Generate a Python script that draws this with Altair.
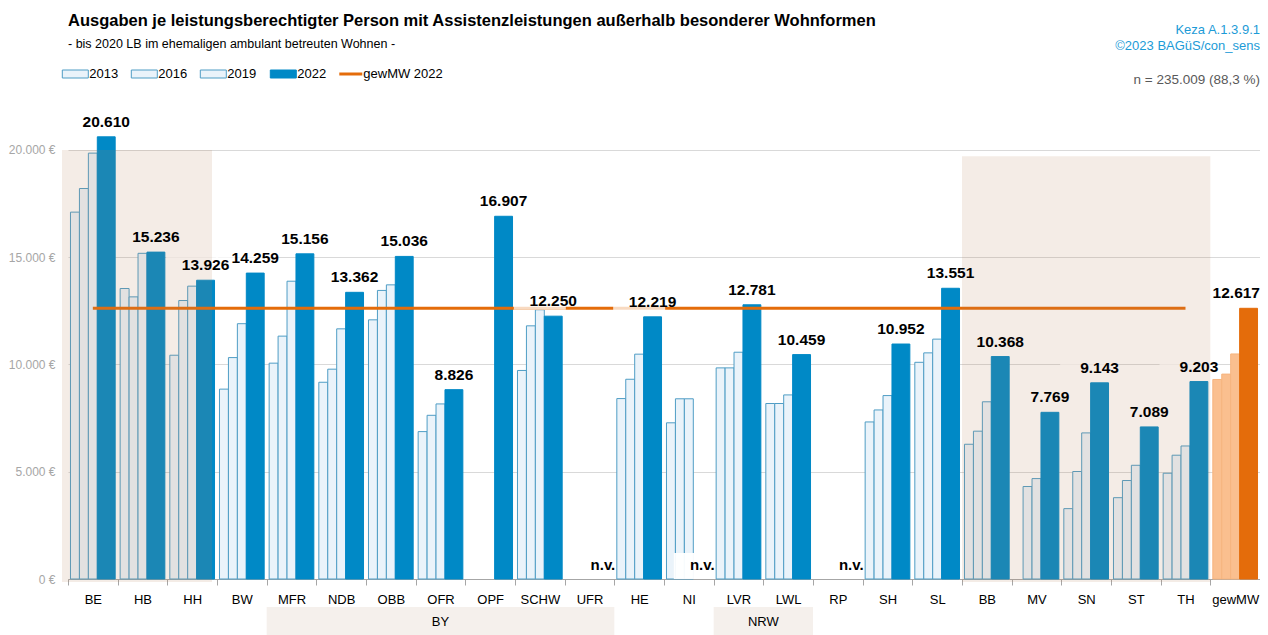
import altair as alt
import pandas as pd

# ---------------- data ----------------
categories = ["BE", "HB", "HH", "BW", "MFR", "NDB", "OBB", "OFR", "OPF", "SCHW", "UFR",
              "HE", "NI", "LVR", "LWL", "RP", "SH", "SL", "BB", "MV", "SN", "ST", "TH", "gewMW"]
years = ["2013", "2016", "2019", "2022"]
v2013 = [17100, 13540, 10430, 8850, 10060, 9170, 12080, 6870, None, 9720, None,
         8410, 7280, 9840, 8180, None, 7320, 10100, 6280, None, 3280, 3790, 4930, 9300]
v2016 = [18200, 13150, 12980, 10320, 11320, 9780, 13450, 7630, None, 11800, None,
         9310, 8400, 9840, 8180, None, 7880, 10540, 6890, 4310, 5010, 4590, 5770, 9550]
v2019 = [19850, 15180, 13650, 11900, 13880, 11660, 13710, 8160, None, 12550, None,
         10480, 8400, 10570, 8580, None, 8550, 11180, 8260, 4680, 6810, 5300, 6200, 10490]
v2022 = [20610, 15236, 13926, 14259, 15156, 13362, 15036, 8826, 16907, 12250, None,
         12219, None, 12781, 10459, None, 10952, 13551, 10368, 7769, 9143, 7089, 9203, 12617]
y_ticks = [0, 5000, 10000, 15000, 20000]
city_states = ["BE", "HB", "HH"]
east_states = ["BB", "MV", "SN", "ST", "TH"]
na_cats = ["UFR", "NI", "RP"]
na_text = "n.v."
groups = ["BY", "NRW"]
group_start = ["MFR", "LVR"]
group_end = ["UFR", "LWL"]
avg_cat = "gewMW"
legend_labels = ["2013", "2016", "2019", "2022", "gewMW 2022"]
title_text = "Ausgaben je leistungsberechtigter Person mit Assistenzleistungen außerhalb besonderer Wohnformen"
subtitle_text = "- bis 2020 LB im ehemaligen ambulant betreuten Wohnen -"
source_lines = ["Keza A.1.3.9.1", "©2023 BAGüS/con_sens"]
n_text = "n = 235.009 (88,3 %)"

series = {"2013": v2013, "2016": v2016, "2019": v2019, "2022": v2022}


def de_fmt(v):
    return f"{int(v):,}".replace(",", ".")


rows = []
for yr, vals in series.items():
    for c, v in zip(categories, vals):
        if v is None:
            continue
        kind = "mw" if c == avg_cat else "land"
        rows.append(dict(cat=c, year=yr, value=v, key=kind + yr, label=de_fmt(v)))
bars = pd.DataFrame(rows)
labels22 = bars[bars.year == "2022"].reset_index(drop=True)
na_df = pd.DataFrame({"cat": na_cats, "value": [0] * len(na_cats), "label": [na_text] * len(na_cats)})
avg2022 = v2022[categories.index(avg_cat)]
line_df = pd.DataFrame([{"cat": city_states[0], "e": east_states[-1], "value": avg2022}])
city_df = pd.DataFrame([{"cat": city_states[0], "e": city_states[-1], "value": 20000}])
east_df = pd.DataFrame([{"cat": east_states[0], "e": east_states[-1], "value": 19700}])
group_df = pd.DataFrame({"g": groups, "cat": group_start, "e": group_end})
dummy = pd.DataFrame({"d": [0]})

# ---------------- style ----------------
FONT = "Liberation Sans, Arial, sans-serif"
BLUE = "#0089c6"
OLD_FILL = "#eaf3fa"
OLD_STROKE = "#4f9dc5"
ORANGE = "#e46c0a"
ORANGE_L = "#fabf8f"
OVERLAY = "#b68058"

W, H = 1192, 472
xscale = alt.Scale(domain=categories, paddingInner=0, paddingOuter=0)
yscale = alt.Scale(domain=[0, 22000], nice=False, zero=True)
keys = ["land2013", "land2016", "land2019", "land2022", "mw2013", "mw2016", "mw2019", "mw2022"]
fill_scale = alt.Scale(domain=keys, range=[OLD_FILL] * 3 + [BLUE] + [ORANGE_L] * 3 + [ORANGE])
stroke_scale = alt.Scale(domain=keys, range=[OLD_STROKE] * 3 + [BLUE] + ["#f6b47e"] * 3 + [ORANGE])
pos = {"2013": (0.05, 0.23), "2016": (0.23, 0.41), "2019": (0.41, 0.59), "2022": (0.59, 0.95)}
LBL_POS = 0.77

x_axis = alt.Axis(title=None, tickBand="extent", labelAngle=0, tickSize=6, tickColor="#a6a6a6",
                  domainColor="#a6a6a6", labelFontSize=13, labelColor="#000000", labelPadding=8,
                  labelFont=FONT, grid=False)
y_axis = alt.Axis(title=None, values=y_ticks, tickSize=0, domain=False, gridColor="#d9d9d9",
                  labelColor="#a6a6a6", labelPadding=13, labelFontSize=12, labelFont=FONT,
                  labelExpr="replace(format(datum.value, ',d'), ',', '.') + ' €'")


def X(field="cat:N", bp=0.5, axis=False):
    if axis:
        return alt.X(field, scale=xscale, bandPosition=bp, axis=x_axis)
    return alt.X(field, scale=xscale, bandPosition=bp, title=None)


def Y(field="value:Q", axis=False):
    if axis:
        return alt.Y(field, scale=yscale, axis=y_axis, stack=None)
    return alt.Y(field, scale=yscale, title=None, stack=None)


layers = []
for i, yr in enumerate(years):
    b0, b1 = pos[yr]
    layers.append(
        alt.Chart(bars).transform_filter(alt.datum.year == yr).mark_bar(strokeWidth=1).encode(
            x=X(bp=b0, axis=(i == 0)),
            x2=alt.X2("cat", bandPosition=b1),
            y=Y(axis=(i == 0)),
            y2=alt.datum(0),
            fill=alt.Fill("key:N", scale=fill_scale, legend=None),
            stroke=alt.Stroke("key:N", scale=stroke_scale, legend=None),
        )
    )

avg_line = alt.Chart(line_df).mark_rule(color=ORANGE, strokeWidth=3).encode(
    x=X(bp=0.5), x2=alt.X2("e", bandPosition=0.5), y=Y(),
)

label_box = alt.Chart(labels22).transform_filter(alt.datum.cat != avg_cat).mark_tick(
    color="white", opacity=0.75, size=52, thickness=17, yOffset=-15).encode(
    x=X(bp=LBL_POS), y=Y(),
)
na_box = alt.Chart(na_df).mark_tick(color="white", opacity=0.95, size=30, thickness=26, yOffset=-13).encode(
    x=X(bp=LBL_POS), y=Y(),
)

city_overlay = alt.Chart(city_df).mark_rect(color=OVERLAY, opacity=0.15, xOffset=-6, x2Offset=-5, y2Offset=3).encode(
    x=X(bp=0), x2=alt.X2("e", bandPosition=1), y=Y(), y2=alt.datum(0),
)
east_overlay = alt.Chart(east_df).mark_rect(color=OVERLAY, opacity=0.15, y2Offset=3).encode(
    x=X(bp=0), x2=alt.X2("e", bandPosition=1), y=Y(), y2=alt.datum(0),
)

label_text = alt.Chart(labels22).transform_filter(alt.datum.cat != avg_cat).mark_text(
    font=FONT, fontSize=15.5, fontWeight="bold", color="#000000", dy=-15, baseline="middle").encode(
    x=X(bp=LBL_POS), y=Y(), text="label:N",
)
avg_text = alt.Chart(labels22).transform_filter(alt.datum.cat == avg_cat).mark_text(
    font=FONT, fontSize=15.5, fontWeight="bold", color="#000000", dy=-15, baseline="middle",
    align="right").encode(
    x=X(bp=1.0), y=Y(), text="label:N",
)
na_label = alt.Chart(na_df).mark_text(font=FONT, fontSize=15, fontWeight="bold", color="#000000",
                                      dy=-14, baseline="middle").encode(
    x=X(bp=LBL_POS), y=Y(), text="label:N",
)

group_box = alt.Chart(group_df).mark_rect(color="#f5f0ec").encode(
    x=X(bp=0), x2=alt.X2("e", bandPosition=1),
    y=alt.value(H + 28), y2=alt.value(H + 56),
)
group_text = []
for g, s, e in zip(groups, group_start, group_end):
    i0, i1 = categories.index(s), categories.index(e) + 1
    mid = (i0 + i1) / 2
    anchor = categories[int(mid)]
    frac = mid - int(mid)
    group_text.append(
        alt.Chart(pd.DataFrame({"cat": [anchor], "g": [g]})).mark_text(
            font=FONT, fontSize=13, color="#000000", baseline="middle").encode(
            x=X(bp=frac), y=alt.value(H + 43), text="g:N",
        )
    )

# ---- legend (manual, above plot) ----
LY = -33
leg = []
box_x = [-5.7, 63.3, 132.3, 202.3]
for k, (lbl, bx) in enumerate(zip(legend_labels[:4], box_x)):
    fill = BLUE if k == 3 else OLD_FILL
    strk = BLUE if k == 3 else OLD_STROKE
    leg.append(alt.Chart(dummy).mark_rect(fill=fill, stroke=strk, strokeWidth=1).encode(
        x=alt.value(bx), x2=alt.value(bx + 26), y=alt.value(LY - 4), y2=alt.value(LY + 4)))
    leg.append(alt.Chart(dummy).mark_text(font=FONT, fontSize=13, align="left", baseline="middle",
                                          color="#000000", text=lbl).encode(
        x=alt.value(bx + 27), y=alt.value(LY)))
leg.append(alt.Chart(dummy).mark_rule(color=ORANGE, strokeWidth=3).encode(
    x=alt.value(271.3), x2=alt.value(294.3), y=alt.value(LY)))
leg.append(alt.Chart(dummy).mark_text(font=FONT, fontSize=13, align="left", baseline="middle",
                                      color="#000000", text=legend_labels[4]).encode(
    x=alt.value(295.3), y=alt.value(LY)))

# ---- titles & notes ----
notes = [
    alt.Chart(dummy).mark_text(font=FONT, fontSize=16.5, fontWeight="bold", align="left", baseline="middle",
                               color="#000000", text=title_text).encode(x=alt.value(0), y=alt.value(-86)),
    alt.Chart(dummy).mark_text(font=FONT, fontSize=12.5, align="left", baseline="middle",
                               color="#000000", text=subtitle_text).encode(x=alt.value(0), y=alt.value(-63)),
    alt.Chart(dummy).mark_text(font=FONT, fontSize=13, align="right", baseline="middle",
                               color="#1c9bd7", text=source_lines[0]).encode(x=alt.value(W), y=alt.value(-77)),
    alt.Chart(dummy).mark_text(font=FONT, fontSize=13, align="right", baseline="middle",
                               color="#1c9bd7", text=source_lines[1]).encode(x=alt.value(W), y=alt.value(-61)),
    alt.Chart(dummy).mark_text(font=FONT, fontSize=13.5, align="right", baseline="middle",
                               color="#595959", text=n_text).encode(x=alt.value(W), y=alt.value(-27)),
]

chart = alt.layer(
    *layers, avg_line, label_box, na_box, city_overlay, east_overlay,
    label_text, avg_text, na_label, group_box, *group_text, *leg, *notes
).properties(
    width=W, height=H,
    autosize=alt.AutoSizeParams(type="none"),
    padding={"left": 60, "top": 99, "right": 0, "bottom": 56},
).configure(font=FONT, view=alt.ViewConfig(stroke=None))

chart.save("out.html", embed_options={"renderer": "svg", "actions": False})
